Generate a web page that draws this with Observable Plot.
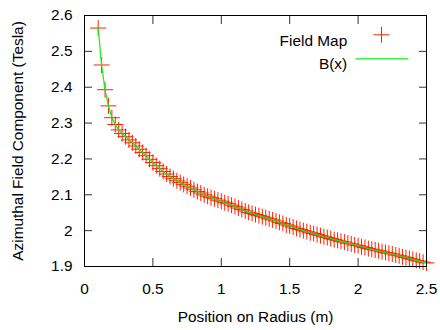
<!DOCTYPE html>
<html>
<head>
<meta charset="utf-8">
<script src="https://cdn.jsdelivr.net/npm/d3@7"></script>
<script src="https://cdn.jsdelivr.net/npm/@observablehq/plot@0.6"></script>
<style>
  html, body { margin: 0; padding: 0; background: white; }
</style>
</head>
<body>
<div id="chart"></div>
<script>
// Position on radius (m)
const radius = [
  0.100, 0.125, 0.150, 0.175, 0.200, 0.225, 0.250, 0.275, 0.300, 0.325,
  0.350, 0.375, 0.400, 0.425, 0.450, 0.475, 0.500, 0.525, 0.550, 0.575,
  0.600, 0.625, 0.650, 0.675, 0.700, 0.725, 0.750, 0.775, 0.800, 0.825,
  0.850, 0.875, 0.900, 0.925, 0.950, 0.975, 1.000, 1.025, 1.050, 1.075,
  1.100, 1.125, 1.150, 1.175, 1.200, 1.225, 1.250, 1.275, 1.300, 1.325,
  1.350, 1.375, 1.400, 1.425, 1.450, 1.475, 1.500, 1.525, 1.550, 1.575,
  1.600, 1.625, 1.650, 1.675, 1.700, 1.725, 1.750, 1.775, 1.800, 1.825,
  1.850, 1.875, 1.900, 1.925, 1.950, 1.975, 2.000, 2.025, 2.050, 2.075,
  2.100, 2.125, 2.150, 2.175, 2.200, 2.225, 2.250, 2.275, 2.300, 2.325,
  2.350, 2.375, 2.400, 2.425, 2.450, 2.475, 2.500
];
// Azimuthal field component (Tesla), field map samples
const fieldMap = [
  2.565, 2.462, 2.393, 2.348, 2.315, 2.296, 2.281, 2.271, 2.262, 2.253,
  2.245, 2.236, 2.227, 2.218, 2.209, 2.199, 2.190, 2.181, 2.173, 2.165,
  2.158, 2.151, 2.145, 2.139, 2.134, 2.129, 2.124, 2.119, 2.114, 2.109,
  2.105, 2.100, 2.096, 2.092, 2.089, 2.085, 2.082, 2.078, 2.075, 2.071,
  2.067, 2.063, 2.059, 2.055, 2.051, 2.048, 2.045, 2.042, 2.039, 2.036,
  2.033, 2.030, 2.027, 2.023, 2.020, 2.016, 2.013, 2.010, 2.006, 2.003,
  2.000, 1.997, 1.994, 1.992, 1.989, 1.986, 1.983, 1.981, 1.978, 1.975,
  1.973, 1.970, 1.968, 1.965, 1.963, 1.960, 1.958, 1.955, 1.953, 1.950,
  1.948, 1.946, 1.944, 1.941, 1.939, 1.937, 1.935, 1.932, 1.930, 1.927,
  1.925, 1.922, 1.920, 1.917, 1.915, 1.912, 1.910
];
// B(x) curve (follows the field map)
const bCurve = fieldMap.slice();

const xTicks = [0, 0.5, 1, 1.5, 2, 2.5];
const xTickLabels = ["0", "0.5", "1", "1.5", "2", "2.5"];
const yTicks = [1.9, 2.0, 2.1, 2.2, 2.3, 2.4, 2.5, 2.6];
const yTickLabels = ["1.9", "2", "2.1", "2.2", "2.3", "2.4", "2.5", "2.6"];
const seriesNames = ["Field Map", "B(x)"];
const xTitle = "Position on Radius (m)";
const yTitle = "Azimuthal Field Component (Tesla)";

const RED = "#ff2200";
const GREEN = "#11ee11";
const TICK = "#333";

const mapRows = radius.map((x, i) => ({x, y: fieldMap[i]}));
const curveRows = radius.map((x, i) => ({x, y: bCurve[i]}));

const plusSymbol = {
  draw(ctx) { ctx.moveTo(-8, 0); ctx.lineTo(8, 0); ctx.moveTo(0, -8); ctx.lineTo(0, 8); }
};
const lineSymbol = {
  draw(ctx) { ctx.moveTo(-26.5, 0); ctx.lineTo(26.5, 0); }
};

const xFmt = d => xTickLabels[xTicks.indexOf(d)];
const yFmt = d => yTickLabels[yTicks.indexOf(d)];

const chart = Plot.plot({
  width: 440,
  height: 330,
  marginLeft: 84,
  marginRight: 14,
  marginTop: 15,
  marginBottom: 64,
  style: {fontFamily: "'Liberation Sans', Arial, sans-serif", fontSize: "15.4px", color: "black", background: "white"},
  x: {domain: [0, 2.5], label: null},
  y: {domain: [1.9, 2.6], label: null},
  marks: [
    // inward ticks, mirrored on all four sides
    Plot.axisX(xTicks, {anchor: "bottom", tickSize: -8, fill: "none", stroke: TICK}),
    Plot.axisX(xTicks, {anchor: "top", tickSize: -8, fill: "none", stroke: TICK}),
    Plot.axisY(yTicks, {anchor: "left", tickSize: -8, fill: "none", stroke: TICK}),
    Plot.axisY(yTicks, {anchor: "right", tickSize: -8, fill: "none", stroke: TICK}),
    // tick labels
    Plot.axisX(xTicks, {anchor: "bottom", tickSize: 0, tickPadding: 17, tickFormat: xFmt, label: null}),
    Plot.axisY(yTicks, {anchor: "left", tickSize: 0, tickPadding: 12, tickFormat: yFmt, label: null}),
    // data
    Plot.dot(mapRows, {x: "x", y: "y", symbol: plusSymbol, stroke: RED, strokeWidth: 1, r: 5}),
    Plot.line(curveRows, {x: "x", y: "y", stroke: GREEN, strokeWidth: 1.2}),
    Plot.frame({stroke: "black", strokeWidth: 1}),
    // axis titles
    Plot.text([xTitle], {frameAnchor: "bottom", dy: 55, fill: "black"}),
    Plot.text([yTitle], {frameAnchor: "left", dx: -66.5, rotate: -90, textAnchor: "middle", fill: "black"}),
    // legend
    Plot.text([seriesNames[0]], {frameAnchor: "top-right", dx: -79.3, dy: 19.2, textAnchor: "end", fill: "black"}),
    Plot.dot([seriesNames[0]], {frameAnchor: "top-right", dx: -45, dy: 19.3, symbol: plusSymbol, stroke: RED, strokeWidth: 1, r: 5}),
    Plot.text([seriesNames[1]], {frameAnchor: "top-right", dx: -79.3, dy: 43, textAnchor: "end", fill: "black"}),
    Plot.dot([seriesNames[1]], {frameAnchor: "top-right", dx: -44.6, dy: 43.3, symbol: lineSymbol, stroke: GREEN, strokeWidth: 1.2, r: 5})
  ]
});
document.getElementById("chart").appendChild(chart);
</script>
</body>
</html>
